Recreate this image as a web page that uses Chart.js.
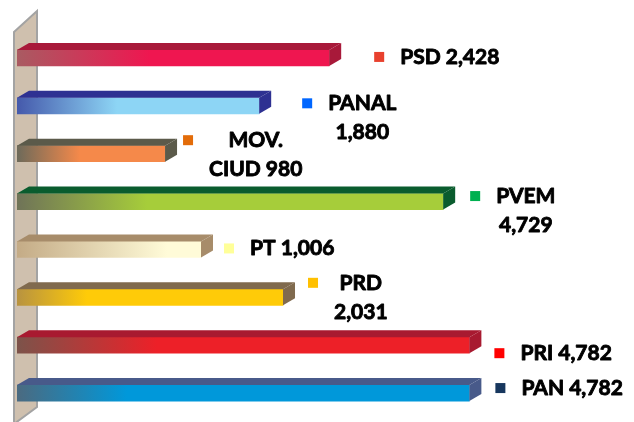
<!DOCTYPE html>
<html>
<head>
<meta charset="utf-8">
<script src="https://cdn.jsdelivr.net/npm/chart.js@4.4.1/dist/chart.umd.min.js"></script>
<style>
  body { margin: 0; background: #fff; }
  canvas { display: block; }
</style>
</head>
<body>
<canvas id="chart" width="634" height="422"></canvas>
<script>
// partidos, de arriba hacia abajo
const parties = ['PSD', 'PANAL', 'MOV. CIUD', 'PVEM', 'PT', 'PRD', 'PRI', 'PAN'];
// votos que muestran las etiquetas
const votes = ['2,428', '1,880', '980', '4,729', '1,006', '2,031', '4,782', '4,782'];
// largo de las barras tal como se ven (no es proporcional a los votos)
const barSize = [3300, 2560, 1565, 4505, 1945, 2812, 4782, 4782];
// texto de cada etiqueta, por renglones
const labelLines = [
    ['PSD 2,428'],
    ['PANAL', '1,880'],
    ['MOV.', 'CIUD 980'],
    ['PVEM', '4,729'],
    ['PT 1,006'],
    ['PRD', '2,031'],
    ['PRI 4,782'],
    ['PAN 4,782']
];

// estilos: degradado de la cara frontal, cara superior y cuadrito de la etiqueta
const faceLeft  = ['#a95b62', '#4559ab', '#6d6a5a', '#6f7358', '#c4ab86', '#b89340', '#7c534a', '#4b6a80'];
const faceRight = ['#ef1650', '#8dd5f5', '#f5894a', '#a6cd3a', '#fffbd8', '#ffcb08', '#ed2028', '#0098da'];
const fadeLen   = [133, 100, 63, 130, 150, 70, 140, 110];
const topColor  = ['#a8193a', '#2e3192', '#5b5a4a', '#0a5c2e', '#a78c6a', '#806a4e', '#a81a30', '#485a8a'];
const keyColor  = ['#e8412e', '#0066ff', '#e36c09', '#00b050', '#ffff99', '#ffc000', '#ff0000', '#17375e'];
// ajuste manual de las etiquetas [dx, dy]
const labelNudge = [[20, -1], [18, 12], [-7, 1], [2, 9], [-2, -1], [0, 0], [0, 8], [1, -5]];

const DX = 12, DY = 7;

function frontGradient(context) {
    const chart = context.chart;
    const area = chart.chartArea;
    if (!area) return faceRight[context.dataIndex];
    const i = context.dataIndex;
    const x0 = area.left;
    const g = chart.ctx.createLinearGradient(x0, 0, x0 + fadeLen[i], 0);
    g.addColorStop(0, faceLeft[i]);
    g.addColorStop(1, faceRight[i]);
    return g;
}

const scene = {
    id: 'scene',
    beforeDatasetsDraw(chart) {
        // pared lateral
        const c = chart.ctx;
        const l = chart.chartArea.left - 3;
        c.save();
        c.beginPath();
        c.moveTo(l, 32);
        c.lineTo(l + 23, 11);
        c.lineTo(l + 23, 407);
        c.lineTo(l, 424);
        c.closePath();
        c.fillStyle = '#cfc0ae';
        c.fill();
        c.lineWidth = 2;
        c.strokeStyle = '#a3a3a3';
        c.stroke();
        c.restore();
    },
    afterDatasetsDraw(chart) {
        const c = chart.ctx;
        const meta = chart.getDatasetMeta(0);
        c.save();
        meta.data.forEach((bar, i) => {
            const p = bar.getProps(['x', 'y', 'base', 'height'], true);
            const top = p.y - p.height / 2, bot = p.y + p.height / 2;
            c.fillStyle = topColor[i];
            // cara superior
            c.beginPath();
            c.moveTo(p.base, top);
            c.lineTo(p.base + DX, top - DY);
            c.lineTo(p.x + DX, top - DY);
            c.lineTo(p.x, top);
            c.closePath();
            c.fill();
            // cara derecha
            c.beginPath();
            c.moveTo(p.x, top);
            c.lineTo(p.x + DX, top - DY);
            c.lineTo(p.x + DX, bot - DY);
            c.lineTo(p.x, bot);
            c.closePath();
            c.fill();

            // etiqueta
            const lines = labelLines[i];
            const lh = 29;
            const nx = labelNudge[i][0], ny = labelNudge[i][1];
            const sq = 10;
            const sx = p.x + 25 + nx;
            const y0 = p.y + ny - (lines.length - 1) * lh / 2;
            c.fillStyle = keyColor[i];
            c.fillRect(sx, y0 - sq / 2, sq, sq);
            c.font = 'bold 21px Lato';
            c.fillStyle = '#000';
            c.strokeStyle = '#000';
            c.lineWidth = 0.9;
            c.lineJoin = 'round';
            c.textBaseline = 'middle';
            c.textAlign = 'center';
            const w = Math.max(...lines.map(t => c.measureText(t).width));
            const bx = sx + sq + 16 + w / 2;
            lines.forEach((t, k) => {
                c.fillText(t, bx, y0 + k * lh);
                c.strokeText(t, bx, y0 + k * lh);
            });
        });
        c.restore();
    }
};

const ctx = document.getElementById('chart').getContext('2d');
new Chart(ctx, {
    type: 'bar',
    data: {
        labels: parties,
        datasets: [{
            label: 'Votos',
            data: barSize,
            backgroundColor: frontGradient,
            borderWidth: 0,
            barThickness: 16
        }]
    },
    options: {
        indexAxis: 'y',
        responsive: false,
        animation: false,
        layout: { padding: { left: 17, right: 144, top: 34, bottom: 5 } },
        scales: {
            x: { display: false, min: 0, max: 5000 },
            y: { display: false }
        },
        plugins: {
            legend: { display: false },
            tooltip: { enabled: false }
        }
    },
    plugins: [scene]
});
</script>
</body>
</html>
